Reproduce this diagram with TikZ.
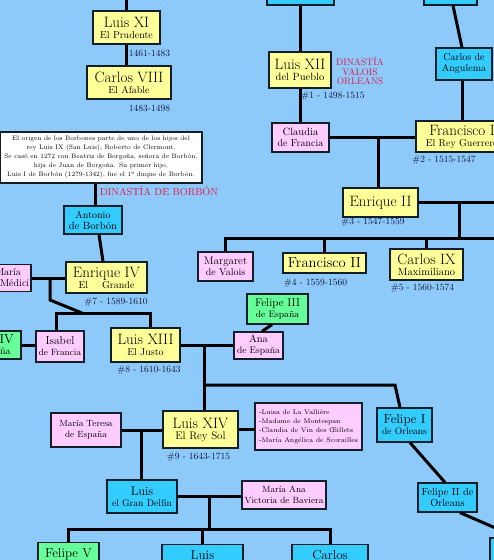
\documentclass[tikz,border=0pt]{standalone}
\usepackage{xcolor}
\definecolor{bgblue}     {RGB}{141,202,250}
\definecolor{kingyellow} {RGB}{255,255,153}
\definecolor{consortpink}{RGB}{255,204,255}
\definecolor{royalcyan}  {RGB}{ 51,204,255}
\definecolor{spaingreen} {RGB}{102,255,153}
\definecolor{edgecol}    {RGB}{ 20, 30, 40}
\definecolor{dynred}     {RGB}{232, 20, 70}
\definecolor{datecol}    {RGB}{ 15, 20, 55}
\newcommand{\txtsz}[2]{{\fontsize{#1}{#1}\selectfont #2}}
\tikzset{
  %% every family box: flat fill, thin dark border
  box/.style={
    draw=edgecol, line width=1.2pt, inner sep=1pt,
    align=center, font=\fontsize{10}{11}\selectfont
  },
  dims/.style 2 args={minimum width=#1pt, minimum height=#2pt},
  king/.style={box, fill=kingyellow},
  consort/.style={box, fill=consortpink},
  royal/.style={box, fill=royalcyan},
  spanish/.style={box, fill=spaingreen},
  %% boxes cut by the lower edge: text sits at the top
  cutoff/.style={anchor=north, text height=14pt, text depth=20pt,
    font=\fontsize{13}{13}\selectfont},
  note/.style={box, fill=white, font=\fontsize{6.5}{9}\selectfont},
  lover/.style={consort, align=left, font=\fontsize{6.8}{9.4}\selectfont},
  link/.style={draw=black, line width=3pt},
  reign/.style={font=\fontsize{9.5}{10}\selectfont, text=datecol, inner sep=0pt},
  dynasty/.style={text=dynred, align=center, inner sep=0pt,
    font=\fontsize{9.5}{9.3}\selectfont},
}

\begin{document}
\begin{tikzpicture}[x=1pt, y=-1pt]

  %% ── Layout constants ──────────────────────────────────────────────────
  \def\W{494}   % picture width
  \def\H{560}   % picture height

  \useasboundingbox (0,0) rectangle (\W,\H);
  \clip (0,0) rectangle (\W,\H);
  \fill[bgblue] (0,0) rectangle (\W,\H);

  \coordinate (edge-top)   at (0,-20);
  \coordinate (edge-right) at (520,0);

  %% ══════════════════════════════════════════════════════════════════════
  %%  VALOIS
  %% ══════════════════════════════════════════════════════════════════════
  \node[reign] (reign-carlosvii) at (151,-3) {1422-1461};
  \node[king, dims={67}{33}] (luisxi) at (126.5,27.5)
        {\txtsz{15}{Luis XI}\\El Prudente};
  \node[reign] (reign-luisxi) at (149.5,53) {1461-1483};
  \node[king, dims={84}{33}] (carlosviii) at (129,82.5)
        {\txtsz{15}{Carlos VIII}\\El Afable};
  \node[reign] (reign-carlosviii) at (149.5,108) {1483-1498};

  %% cut at the top edge
  \node[royal, dims={67}{30}] (orleansup)  at (300.5,-10) {};
  \node[royal, dims={53}{30}] (angulemaup) at (450.5,-10) {};

  \node[king, dims={62}{36}] (luisxii) at (300,70)
        {\txtsz{15}{Luis XII}\\\txtsz{10.5}{del Pueblo}};
  \node[reign] (reign-luisxii) at (333,96) {\#1 - 1498-1515};
  \node[dynasty] (valois) at (360,71) {DINASTÍA\\VALOIS\\ORLEANS};

  \node[consort, dims={57}{29}] (claudia) at (300.5,137.5)
        {\txtsz{10.5}{Claudia}\\de Francia};
  \node[royal, dims={56}{32}] (carlosang) at (464,64) {Carlos de\\Angulema};
  \node[king, dims={92}{31}] (franciscoi) at (462,136.5)
        {\txtsz{15}{Francisco I}\\El Rey Guerrero};
  \node[reign] (reign-franciscoi) at (444,160) {\#2 - 1515-1547};

  \node[king, dims={75}{29}] (enriqueii) at (380.5,202.5)
        {\txtsz{15}{Enrique II}};
  \node[reign] (reign-enriqueii) at (373,222.5) {\#3 - 1547-1559};

  \node[consort, dims={55}{29}] (margaret) at (225.5,266.5)
        {\txtsz{11}{Margaret}\\de Valois};
  \node[king, dims={83}{20}] (franciscoii) at (324.5,263)
        {\txtsz{14.5}{Francisco II}};
  \node[reign] (reign-franciscoii) at (315.5,283) {\#4 - 1559-1560};
  \node[king, dims={73}{31}] (carlosix) at (426.5,264.5)
        {\txtsz{15}{Carlos IX}\\\txtsz{10.5}{Maximiliano}};
  \node[reign] (reign-carlosix) at (422.5,288) {\#5 - 1560-1574};

  %% ══════════════════════════════════════════════════════════════════════
  %%  BORBÓN
  %% ══════════════════════════════════════════════════════════════════════
  \node[note, dims={202}{51}] (origen) at (101,157.5)
        {El origen de los Borbones parte de uno de los hijos del\\
         rey Luis IX (San Luis), Roberto de Clermont.\\
         Se casó en 1272 con Beatriz de Borgoña, señora de Borbón,\\
         hija de Juan de Borgoña. Su primer hijo,\\
         Luis I de Borbón (1279-1342), fue el 1º duque de Borbón.};
  \node[dynasty, font=\fontsize{10.2}{10}\selectfont] (borbon) at (159,191)
        {DINASTÍA DE BORBÓN};

  \node[royal, dims={58}{28}] (antonio) at (93,220)
        {Antonio\\\txtsz{10.5}{de Borbón}};
  \node[consort, dims={46}{27}] (medici) at (8,278) {María\\de Médici};
  \node[king, dims={81}{31}] (enriqueiv) at (106.5,277.5)
        {\txtsz{15}{Enrique IV}\\El\hspace{1.4em}Grande};
  \node[reign] (reign-enriqueiv) at (116,302) {\#7 - 1589-1610};

  \node[spanish, dims={66}{28}] (felipeiv) at (-12,345)
        {\txtsz{13}{Felipe IV}\\de España};
  \node[consort, dims={48}{31}] (isabel) at (60,346.5)
        {\txtsz{11.5}{Isabel}\\\txtsz{9}{de Francia}};
  \node[king, dims={69}{34}] (luisxiii) at (145.5,345)
        {\txtsz{15}{Luis XIII}\\El Justo};
  \node[reign] (reign-luisxiii) at (149,370) {\#8 - 1610-1643};

  \node[spanish, dims={61}{30}] (felipeiii) at (277.5,309)
        {\txtsz{11.3}{Felipe III}\\\txtsz{9.3}{de España}};
  \node[consort, dims={49}{27}] (ana) at (258.5,345.5)
        {\txtsz{10.5}{Ana}\\\txtsz{9.5}{de España}};

  %% ── Luis XIV ─────────────────────────────────────────────────────────
  \node[consort, dims={70}{34}, font=\fontsize{9}{11}\selectfont] (mteresa)
        at (86,430) {María Teresa\\de España};
  \node[king, dims={75}{37}] (luisxiv) at (200.5,429.5)
        {\txtsz{15}{Luis XIV}\\\txtsz{11}{El Rey Sol}};
  \node[reign] (reign-luisxiv) at (198.5,457) {\#9 - 1643-1715};
  \node[lover, dims={107}{47}] (amantes) at (308.5,426.5)
        {-Luisa de La Vallière\\-Madame de Montespan\\
         -Claudia de Vin des Œillets\\-María Angélica de Scorailles};

  \node[royal, dims={55}{34}] (felipei) at (404.5,425)
        {\txtsz{13}{Felipe I}\\\txtsz{9.6}{de Orleans}};
  \node[royal, dims={59}{29}, font=\fontsize{10.3}{11}\selectfont] (felipeii)
        at (447.5,497.5) {Felipe II de\\Orleans};
  \node[royal, dims={70}{40}] (orleansdown) at (525,558) {};

  \node[royal, dims={70}{33}] (delfin) at (142,496.5)
        {\txtsz{12.4}{Luis}\\\txtsz{9.6}{el Gran Delfín}};
  \node[consort, dims={84}{28}, font=\fontsize{9}{10.5}\selectfont] (mariaana)
        at (284,495) {María Ana\\Victoria de Baviera};

  %% cut at the lower edge
  \node[spanish, cutoff, minimum width=61pt] (felipev) at (68.5,542) {Felipe V};
  \node[royal, cutoff, minimum width=81pt] (luisb)   at (202.5,544) {Luis};
  \node[royal, cutoff, minimum width=76pt] (carlosb) at (330,544) {Carlos};

  %% ══════════════════════════════════════════════════════════════════════
  %%  CONNECTORS
  %% ══════════════════════════════════════════════════════════════════════
  \draw[link] (luisxi.north) -- (luisxi.north |- edge-top);
  \draw[link] (luisxi.south) -- (luisxi.south |- carlosviii.north);

  \draw[link] (orleansup.south) -- (orleansup.south |- luisxii.north);
  \draw[link] (luisxii.south) -- (luisxii.south |- claudia.north);
  \draw[link] (claudia.east) -- (claudia.east -| franciscoi.west);
  \draw[link] ([xshift=2.5pt]angulemaup.south) -- ([xshift=-2pt]carlosang.north);
  \draw[link] ([xshift=-2pt]carlosang.south)
        -- ([xshift=-2pt]carlosang.south |- franciscoi.north);

  \coordinate (valoisknot) at (378,137.5);
  \draw[link] (valoisknot) -- (valoisknot |- enriqueii.north);
  \draw[link] (enriqueii.east) -- (enriqueii.east -| edge-right);
  \coordinate (henryknot) at (459,202.5);
  \coordinate (henrybar)  at (0,238);
  \draw[link] (henryknot) -- (henryknot |- henrybar);
  \draw[link] (margaret.north) |- (edge-right |- henrybar);
  \draw[link] (franciscoii.north) -- (franciscoii.north |- henrybar);
  \draw[link] (carlosix.north) -- (carlosix.north |- henrybar);

  \draw[link] ([xshift=2pt]antonio.north) -- ([xshift=2pt]antonio.north |- origen.south);
  \draw[link] ([xshift=6pt]antonio.south) -- ([xshift=-3.5pt]enriqueiv.north);
  \draw[link] (medici.east) -- (medici.east -| enriqueiv.west);
  \coordinate (medicknot) at (50,278);
  \coordinate (medicbend) at (50,300);
  \coordinate (medicbar)  at (82,313);
  \draw[link] (medicknot) -- (medicbend) -- (medicbar);
  \draw[link] ([xshift=-4pt]isabel.north) |- ([xshift=4.5pt]luisxiii.north |- medicbar)
        -- ([xshift=4.5pt]luisxiii.north);
  \draw[link] (felipeiv.east) -- (felipeiv.east -| isabel.west);

  \draw[link] (luisxiii.east) -- (luisxiii.east -| ana.west);
  \draw[link] ([xshift=-5.5pt]felipeiii.south) -- ([xshift=3.5pt]ana.north);
  \coordinate (annaknot) at (204,345);
  \draw[link] (annaknot) -- (annaknot |- luisxiv.north);
  \coordinate (orleansbar) at (204,385);
  \draw[link] (orleansbar) -- ([xshift=-9.5pt]felipei.north |- orleansbar)
        -- ([xshift=-4.5pt]felipei.north);

  \draw[link] (mteresa.east) -- (mteresa.east -| luisxiv.west);
  \draw[link] (luisxiv.east) -- (luisxiv.east -| amantes.west);
  \coordinate (teresaknot) at (141,430);
  \draw[link] (teresaknot) -- (teresaknot |- delfin.north);

  \draw[link] ([xshift=5.5pt]felipei.south) -- ([xshift=-2.5pt]felipeii.north);
  \coordinate (felipeii-off) at (530,543);
  \draw[link] ([xshift=12.5pt]felipeii.south) -- (felipeii-off);

  \draw[link] (delfin.east) -- (delfin.east -| mariaana.west);
  \coordinate (delfinknot) at (209,496.5);
  \coordinate (delfinbar)  at (0,529);
  \draw[link] (delfinknot) -- (delfinknot |- delfinbar);
  \draw[link] (felipev.north) |- (carlosb.north |- delfinbar) -- (carlosb.north);
  \draw[link] (luisb.north) -- (luisb.north |- delfinbar);

\end{tikzpicture}
\end{document}
